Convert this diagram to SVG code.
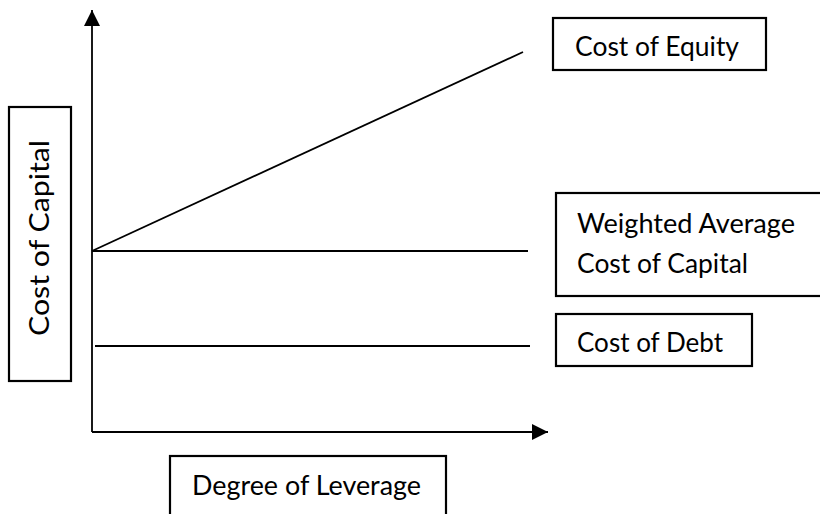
<svg xmlns="http://www.w3.org/2000/svg" width="820" height="514" viewBox="0 0 820 514">
<style>
.box{fill:#fff;stroke:#000;stroke-width:2.2}
.ln{fill:none;stroke:#000;stroke-width:1.8}
.t{font-family:Lato,"Open Sans","Liberation Sans",sans-serif;font-size:27px;fill:#000}
</style>
<defs>
<marker id="ah" markerUnits="userSpaceOnUse" markerWidth="16" markerHeight="16" refX="16" refY="8" orient="auto">
<path d="M0,0 L16,8 L0,16 Z" fill="#000"/>
</marker>
</defs>
<rect width="820" height="514" fill="#fff"/>
<g id="connectors">
<line class="ln" x1="92" y1="432" x2="92" y2="10" marker-end="url(#ah)"/>
<line class="ln" x1="92" y1="432" x2="548" y2="432" marker-end="url(#ah)"/>
<line class="ln" x1="92" y1="251" x2="523" y2="52"/>
<line class="ln" x1="92" y1="251" x2="528" y2="251"/>
<line class="ln" x1="95" y1="346" x2="530" y2="346"/>
</g>
<g id="cost-of-equity">
<rect class="box" x="553" y="18" width="213" height="52"/>
<text class="t" x="575" y="56" textLength="164" lengthAdjust="spacingAndGlyphs">Cost of Equity</text>
</g>
<g id="wacc">
<rect class="box" x="556" y="193" width="280" height="103"/>
<text class="t" x="577" y="233" textLength="218" lengthAdjust="spacingAndGlyphs">Weighted Average</text>
<text class="t" x="577" y="273" textLength="171" lengthAdjust="spacingAndGlyphs">Cost of Capital</text>
</g>
<g id="cost-of-debt">
<rect class="box" x="556" y="314" width="196" height="52"/>
<text class="t" x="577" y="352" textLength="146" lengthAdjust="spacingAndGlyphs">Cost of Debt</text>
</g>
<g id="degree-of-leverage">
<rect class="box" x="170" y="456" width="276" height="70"/>
<text class="t" x="192" y="495" textLength="229" lengthAdjust="spacingAndGlyphs">Degree of Leverage</text>
</g>
<g id="cost-of-capital-axis">
<rect class="box" x="9" y="107" width="62" height="274"/>
<text class="t" transform="translate(49,336) rotate(-90)" textLength="196" lengthAdjust="spacingAndGlyphs">Cost of Capital</text>
</g>
</svg>
